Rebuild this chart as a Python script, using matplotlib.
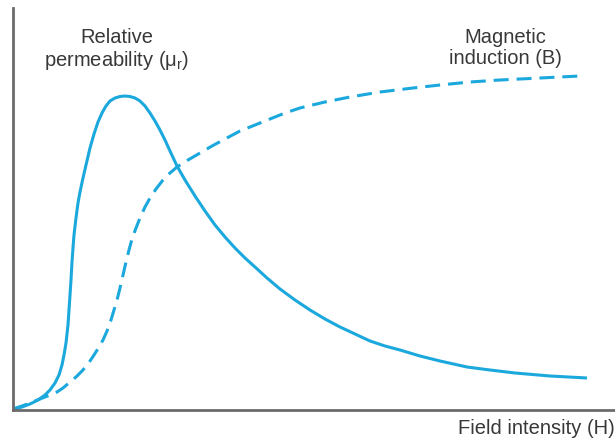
import matplotlib
matplotlib.use("Agg")
import numpy as np
import matplotlib.pyplot as plt

plt.rcParams['font.family'] = ['Liberation Sans', 'DejaVu Sans']
plt.rcParams['mathtext.fontset'] = 'custom'
plt.rcParams['mathtext.rm'] = 'Liberation Sans'
plt.rcParams['mathtext.it'] = 'Liberation Sans'

# curves (H, value), arbitrary units
h_mu = [0, 9, 17, 25, 32, 37, 42, 46, 49, 51, 53, 55, 56, 57, 58, 59, 60, 61, 63, 65,
        67, 70, 73, 77, 81, 85, 89, 93, 97, 102, 107, 112, 117, 122, 127, 132, 137, 142,
        147, 152, 157, 164, 172, 182, 192, 202, 212, 222, 232, 242, 254, 267, 282, 297,
        312, 327, 342, 357, 372, 387, 407, 427, 454, 477, 502, 537, 574]
mu_r = [1, 3, 6, 10, 15, 20, 27, 35, 45, 55, 67, 85, 100, 115, 130, 148, 162, 175, 192,
        207, 218, 232, 245, 262, 276, 288, 297, 304, 309, 312, 313.5, 314, 313.5, 312,
        309, 304, 297, 289, 280, 270, 259, 244, 230, 214, 199, 185, 173, 162, 152, 143,
        132, 121, 110, 100, 91, 83, 76, 69, 64, 60, 54, 49, 43, 40, 37, 34, 32]

h_b = [0, 9, 17, 27, 37, 44, 50, 57, 63, 69, 75, 81, 86, 90, 94, 98, 101, 104, 107, 110,
       113, 116, 119, 123, 127, 132, 137, 143, 150, 157, 164, 175, 187, 199, 212, 227,
       242, 257, 272, 287, 312, 337, 367, 400, 427, 457, 487, 527, 567]
b = [1, 4, 7, 11, 15, 18, 22, 28, 33, 39, 46, 55, 63, 70, 79, 90, 100, 110, 122, 135,
     148, 160, 171, 182, 192, 203, 212, 221, 230, 237, 243, 250, 257, 264, 271, 279,
     285, 291, 297, 302, 308, 313, 318, 322, 325, 328, 330, 332, 334]

color = '#1ba8dd'

fig = plt.figure(figsize=(6.15, 4.44), dpi=100)
ax = fig.add_axes([13 / 615, 34 / 444, 602 / 615, 402 / 444])

ax.plot(h_mu, mu_r, color=color, lw=2.2, solid_joinstyle='round', solid_capstyle='butt')
ax.plot(h_b, b, color=color, lw=2.2, dashes=(4.9, 2.6), dash_joinstyle='round')

ax.set_xlim(0, 602)
ax.set_ylim(0, 402)
ax.set_xticks([])
ax.set_yticks([])
for s in ['top', 'right']:
    ax.spines[s].set_visible(False)
for s in ['left', 'bottom']:
    ax.spines[s].set_color('#6b6b6b')
    ax.spines[s].set_linewidth(2)

ax.text(104, 382, 'Relative\npermeability (μ$_\\mathregular{r}$)', ha='center', va='top',
        fontsize=14.5, color='#383838', linespacing=1.1)
ax.text(492, 382, 'Magnetic\ninduction (B)', ha='center', va='top',
        fontsize=14.5, color='#383838', linespacing=1.1)
fig.text(1.0, 16 / 444, 'Field intensity (H)', ha='right', va='center',
         fontsize=14.5, color='#383838')

fig.savefig('out.png', dpi=100)
